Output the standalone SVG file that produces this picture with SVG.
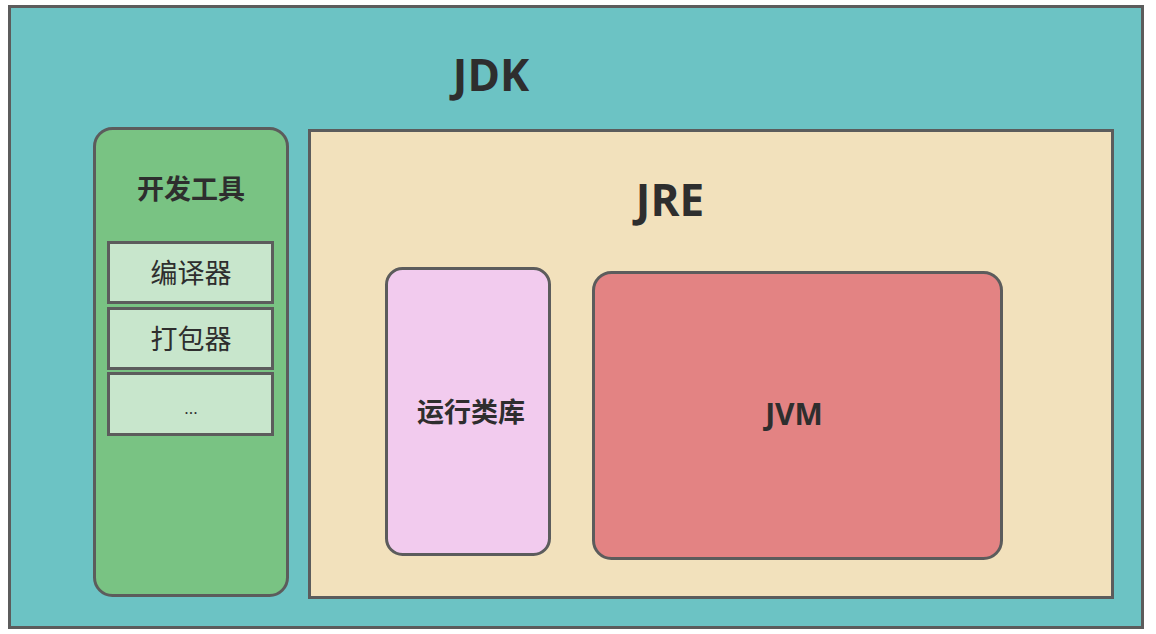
<svg xmlns="http://www.w3.org/2000/svg" width="1156" height="634" viewBox="0 0 1156 634">
<style>
.box{stroke:#5c5c5c;stroke-width:3}
.t{font-family:"Open Sans","Noto Sans CJK SC",sans-serif;fill:#2e2e2e;text-anchor:middle}
.b{font-weight:bold}
</style>
<rect width="1156" height="634" fill="#ffffff"/>
<g id="jdk">
<rect class="box" x="9.5" y="6.5" width="1133" height="621" fill="#6cc3c4"/>
<text class="t b" x="491" y="91" font-size="44">JDK</text>
</g>
<g id="devtools">
<rect class="box" x="94.5" y="128.5" width="193" height="467" rx="18" fill="#79c383"/>
<text class="t b" x="191" y="199" font-size="27">开发工具</text>
</g>
<g id="compiler">
<rect class="box" x="108.5" y="242.5" width="164" height="60" fill="#c8e6cc"/>
<text class="t" x="191" y="283" font-size="27">编译器</text>
</g>
<g id="packager">
<rect class="box" x="108.5" y="308.5" width="164" height="60" fill="#c8e6cc"/>
<text class="t" x="191" y="349" font-size="27">打包器</text>
</g>
<g id="more">
<rect class="box" x="108.5" y="373.5" width="164" height="61" fill="#c8e6cc"/>
<text class="t" x="191" y="414" font-size="17">...</text>
</g>
<g id="jre">
<rect class="box" x="309.5" y="130.5" width="803" height="467" fill="#f2e1bc"/>
<text class="t b" x="670" y="216" font-size="44">JRE</text>
</g>
<g id="lib">
<rect class="box" x="386.5" y="268.5" width="163" height="286" rx="16" fill="#f2cbee"/>
<text class="t b" x="471" y="422" font-size="27">运行类库</text>
</g>
<g id="jvm">
<rect class="box" x="593.5" y="272.5" width="408" height="286" rx="18" fill="#e38383"/>
<text class="t b" x="794" y="425" font-size="30">JVM</text>
</g>
<g id="connectors"/>
</svg>
